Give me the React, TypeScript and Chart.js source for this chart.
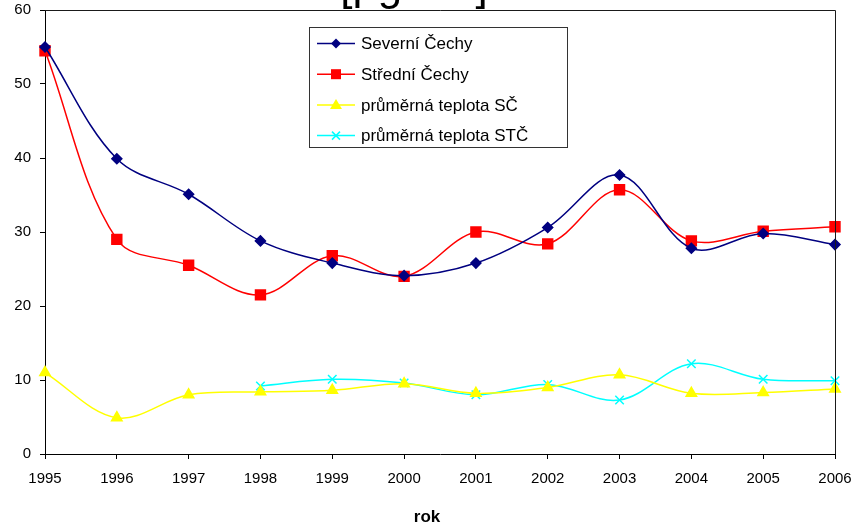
import React, { useEffect, useRef } from "react";
import { Chart, registerables } from "chart.js";

Chart.register(...registerables);

// Years on the horizontal axis
const years = ["1995", "1996", "1997", "1998", "1999", "2000", "2001", "2002", "2003", "2004", "2005", "2006"];

// Series values
const severniCechy = [55.0, 39.9, 35.1, 28.8, 25.8, 24.1, 25.8, 30.6, 37.7, 27.8, 29.8, 28.3];
const stredniCechy = [54.5, 29.0, 25.5, 21.5, 26.8, 24.0, 30.0, 28.4, 35.7, 28.8, 30.1, 30.7];
const teplotaSC = [11.0, 4.9, 8.0, 8.4, 8.6, 9.5, 8.2, 9.0, 10.7, 8.2, 8.3, 8.8];
const teplotaSTC = [null, null, null, 9.2, 10.1, 9.6, 8.0, 9.4, 7.3, 12.2, 10.1, 9.9];

const seriesLabels = ["Severní Čechy", "Střední Čechy", "průměrná teplota SČ", "průměrná teplota STČ"];

const chartTitle = "[μg/m3]";
const xTitle = "rok";

const FONT = "'Liberation Sans', Arial, sans-serif";

function drawMarker(ctx: CanvasRenderingContext2D, style: string, x: number, y: number, color: string) {
  ctx.save();
  ctx.fillStyle = color;
  ctx.strokeStyle = color;
  ctx.lineWidth = 1.5;
  ctx.beginPath();
  if (style === "rectRot") {
    ctx.moveTo(x, y - 5);
    ctx.lineTo(x + 5, y);
    ctx.lineTo(x, y + 5);
    ctx.lineTo(x - 5, y);
    ctx.closePath();
    ctx.fill();
  } else if (style === "rect") {
    ctx.rect(x - 5, y - 5, 10, 10);
    ctx.fill();
  } else if (style === "triangle") {
    ctx.moveTo(x, y - 6);
    ctx.lineTo(x + 6, y + 4);
    ctx.lineTo(x - 6, y + 4);
    ctx.closePath();
    ctx.fill();
  } else {
    ctx.moveTo(x - 4, y - 4);
    ctx.lineTo(x + 4, y + 4);
    ctx.moveTo(x + 4, y - 4);
    ctx.lineTo(x - 4, y + 4);
    ctx.stroke();
  }
  ctx.restore();
}

const framePlugin = {
  id: "frameAndLegend",
  afterDraw(chart: any) {
    const { ctx, chartArea } = chart;
    const { left, right, top, bottom } = chartArea;
    ctx.save();

    // plot frame (top and right edges)
    ctx.strokeStyle = "#1a1a1a";
    ctx.lineWidth = 1;
    ctx.beginPath();
    ctx.moveTo(left, Math.round(top) + 0.5);
    ctx.lineTo(Math.round(right) + 0.5, Math.round(top) + 0.5);
    ctx.lineTo(Math.round(right) + 0.5, bottom);
    ctx.stroke();

    // title, mostly above the canvas edge
    ctx.fillStyle = "#000";
    ctx.font = `44px ${FONT}`;
    ctx.textAlign = "center";
    ctx.textBaseline = "alphabetic";
    ctx.fillText(chartTitle, 414, 0);

    // x axis title
    ctx.font = `bold 17px ${FONT}`;
    ctx.textBaseline = "middle";
    ctx.fillText(xTitle, 427, 517);

    // legend
    const bx = 309.5, by = 27.5, bw = 258, bh = 120;
    ctx.fillStyle = "#fff";
    ctx.fillRect(bx, by, bw, bh);
    ctx.strokeStyle = "#333";
    ctx.strokeRect(bx, by, bw, bh);
    chart.data.datasets.forEach((ds: any, i: number) => {
      const y = 43.5 + i * 30.7;
      ctx.strokeStyle = ds.borderColor;
      ctx.lineWidth = 1.5;
      ctx.beginPath();
      ctx.moveTo(317, y);
      ctx.lineTo(355, y);
      ctx.stroke();
      drawMarker(ctx, ds.pointStyle, 336, y, ds.borderColor);
      ctx.fillStyle = "#000";
      ctx.font = `17px ${FONT}`;
      ctx.textAlign = "left";
      ctx.textBaseline = "middle";
      ctx.fillText(ds.label, 361, y + 1);
    });
    ctx.restore();
  },
};

export default function App() {
  const ref = useRef<HTMLCanvasElement>(null);

  useEffect(() => {
    if (!ref.current) return;
    const chart = new Chart(ref.current, {
      type: "line",
      data: {
        labels: years,
        datasets: [
          {
            label: seriesLabels[0],
            data: severniCechy,
            borderColor: "#000080",
            backgroundColor: "#000080",
            pointStyle: "rectRot",
            pointRadius: 5,
            borderWidth: 1.5,
            tension: 0.35,
          },
          {
            label: seriesLabels[1],
            data: stredniCechy,
            borderColor: "#FF0000",
            backgroundColor: "#FF0000",
            pointStyle: "rect",
            pointRadius: 7,
            borderWidth: 1.5,
            tension: 0.35,
          },
          {
            label: seriesLabels[2],
            data: teplotaSC,
            borderColor: "#FFFF00",
            backgroundColor: "#FFFF00",
            pointStyle: "triangle",
            pointRadius: 6,
            borderWidth: 1.5,
            tension: 0.35,
          },
          {
            label: seriesLabels[3],
            data: teplotaSTC,
            borderColor: "#00FFFF",
            backgroundColor: "#00FFFF",
            pointStyle: "crossRot",
            pointRadius: 6,
            pointBorderWidth: 1.5,
            borderWidth: 1.5,
            tension: 0.35,
          },
        ],
      },
      options: {
        responsive: false,
        animation: false,
        layout: { padding: { left: 0, right: 17, top: 10, bottom: 0 } },
        plugins: {
          legend: { display: false },
          title: { display: false },
          tooltip: { enabled: false },
        },
        scales: {
          x: {
            type: "category",
            offset: false,
            afterFit: (s: any) => {
              s.height = 74;
              s.paddingLeft = 0;
              s.paddingRight = 0;
            },
            grid: {
              drawOnChartArea: false,
              drawTicks: true,
              tickLength: 5,
              color: "#000",
            },
            border: { color: "#000", width: 1 },
            ticks: {
              color: "#000",
              font: { family: FONT, size: 15 },
              padding: 11,
              maxRotation: 0,
              autoSkip: false,
            },
          },
          y: {
            min: 0,
            max: 60,
            afterFit: (s: any) => {
              s.width = 45;
              s.paddingTop = 0;
              s.paddingBottom = 0;
            },
            grid: {
              drawOnChartArea: false,
              drawTicks: true,
              tickLength: 5,
              color: "#000",
            },
            border: { color: "#000", width: 1 },
            ticks: {
              stepSize: 10,
              color: "#000",
              font: { family: FONT, size: 15 },
              padding: 9,
            },
          },
        },
      },
      plugins: [framePlugin],
    });
    return () => chart.destroy();
  }, []);

  return (
    <div style={{ position: "absolute", left: 0, top: 0, width: 852, height: 528, background: "#fff" }}>
      <canvas ref={ref} width={852} height={528} />
    </div>
  );
}
